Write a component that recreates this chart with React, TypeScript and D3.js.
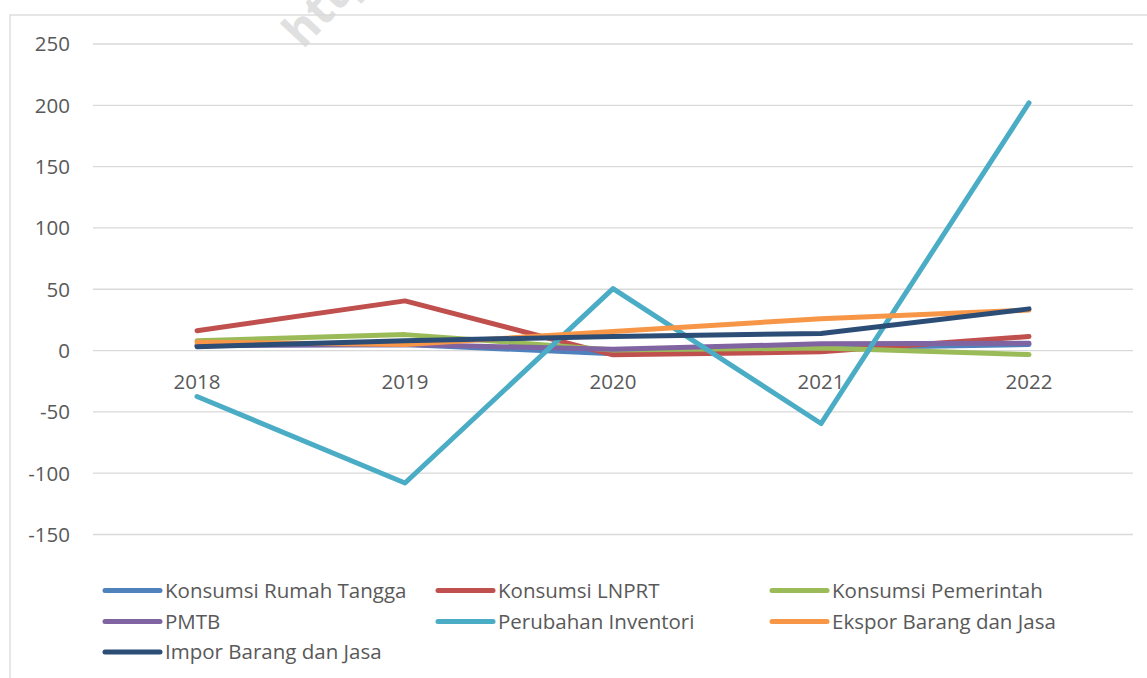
import React from "react";
import * as d3 from "d3";

const years = ["2018", "2019", "2020", "2021", "2022"];
const seriesNames = [
  "Konsumsi Rumah Tangga",
  "Konsumsi LNPRT",
  "Konsumsi Pemerintah",
  "PMTB",
  "Perubahan Inventori",
  "Ekspor Barang dan Jasa",
  "Impor Barang dan Jasa",
];
const rumahTangga = [4.5, 5.0, -2.6, 2.0, 5.0];
const lnprt = [16.2, 40.5, -3.5, -1.0, 11.5];
const pemerintah = [8.0, 13.0, 0.5, 2.0, -3.3];
const pmtb = [4.0, 5.0, 1.0, 5.5, 6.0];
const inventori = [-37.5, -108, 50.5, -59.5, 202];
const ekspor = [6.8, 5.0, 15.5, 26, 33];
const impor = [3.2, 8.0, 11.5, 14, 34];
const yTicks = [250, 200, 150, 100, 50, 0, -50, -100, -150];
const colors = ["#4F81BD", "#C0504D", "#9BBB59", "#8064A2", "#4BACC6", "#F79646", "#2C4D75"];

const allSeries = [rumahTangga, lnprt, pemerintah, pmtb, inventori, ekspor, impor];

export default function App() {
  const W = 1147;
  const H = 678;
  const x = d3.scaleBand<string>().domain(years).range([93, 1133]).padding(0);
  const y = d3.scaleLinear().domain([-150, 250]).range([534.5, 44]);
  const font = "'Open Sans', 'Noto Sans', sans-serif";
  const line = d3
    .line<number>()
    .x((_, i) => (x(years[i]) as number) + x.bandwidth() / 2)
    .y((d) => y(d));

  const legendCols = [105, 438, 772];
  const legendRows = [590.5, 621.5, 652];

  return (
    <svg
      width={W}
      height={H}
      style={{ position: "absolute", left: 0, top: 0, background: "#fff" }}
    >
      <rect x={0} y={0} width={W} height={H} fill="#fff" />
      <rect x={10} y={15} width={W + 20} height={H + 20} fill="none" stroke="#d9d9d9" strokeWidth={1.3} />
      {yTicks.map((t) => (
        <g key={t}>
          <line x1={93} x2={1133} y1={y(t)} y2={y(t)} stroke="#d9d9d9" strokeWidth={1.3} />
          <text
            x={70}
            y={y(t)}
            dy="0.36em"
            textAnchor="end"
            fontFamily={font}
            fontSize={20.5}
            fill="#595959"
          >
            {t}
          </text>
        </g>
      ))}
      {years.map((yr) => (
        <text
          key={yr}
          x={(x(yr) as number) + x.bandwidth() / 2}
          y={388.5}
          textAnchor="middle"
          fontFamily={font}
          fontSize={20.5}
          fill="#595959"
        >
          {yr}
        </text>
      ))}
      {allSeries.map((s, i) => (
        <path
          key={i}
          d={line(s) as string}
          fill="none"
          stroke={colors[i]}
          strokeWidth={5}
          strokeLinecap="round"
          strokeLinejoin="round"
        />
      ))}
      {seriesNames.map((name, i) => {
        const cx = legendCols[i % 3];
        const cy = legendRows[Math.floor(i / 3)];
        return (
          <g key={name}>
            <line x1={cx} x2={cx + 55} y1={cy} y2={cy} stroke={colors[i]} strokeWidth={5} strokeLinecap="round" />
            <text x={cx + 60} y={cy} dy="0.36em" fontFamily={font} fontSize={20.5} fill="#595959">
              {name}
            </text>
          </g>
        );
      })}
      <text
        x={303}
        y={50}
        transform="rotate(-47 303 50)"
        fontFamily={font}
        fontWeight="bold"
        fontSize={46}
        fill="#d9d9d9"
        opacity={0.8}
      >
        https
      </text>
    </svg>
  );
}
